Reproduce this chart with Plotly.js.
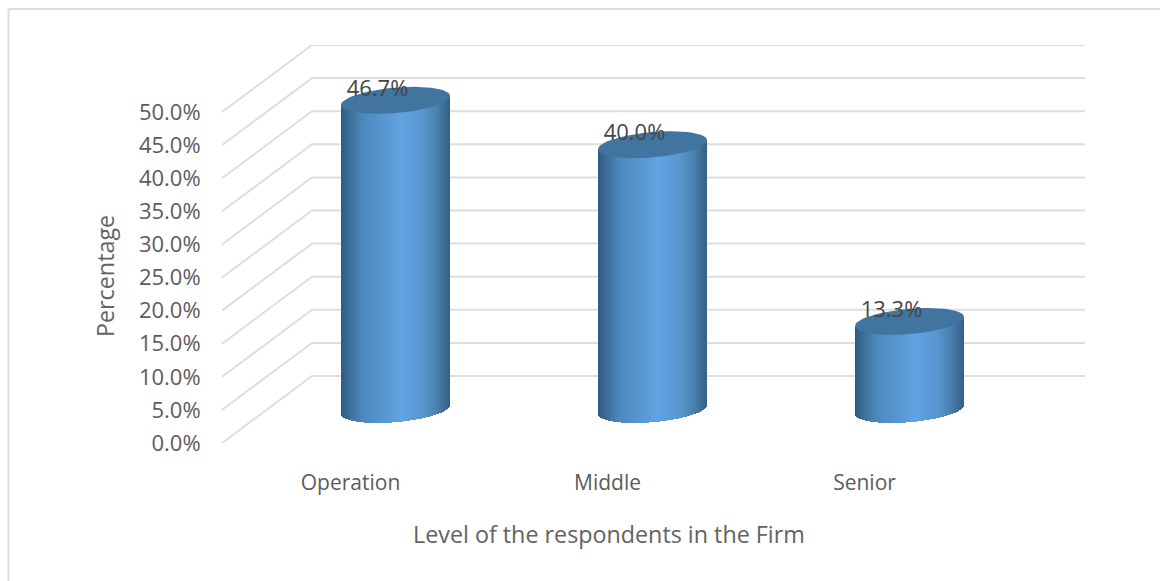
<!DOCTYPE html>
<html>
<head>
<meta charset="utf-8">
<script src="https://cdn.plot.ly/plotly-3.0.1.min.js"></script>
<style>html,body{margin:0;padding:0;background:#fff}#chart{width:1160px;height:581px}</style>
</head>
<body>
<div id="chart"></div>
<script>
// Respondent level in the firm, percentage of respondents
const categories = ['Operation', 'Middle', 'Senior'];
const percentages = [46.7, 40.0, 13.3];
const valueTicks = [0, 5, 10, 15, 20, 25, 30, 35, 40, 45, 50];
const xAxisTitle = 'Level of the respondents in the Firm';
const yAxisTitle = 'Percentage';

// Plot frame in pixels: the x/y axes describe the front plane of the 3-D box
const W = 1160, H = 581;
const plotL = 222, plotR = 1085, plotB = 443, plotT = 45;
const pxPerCat = 257, pxPerVal = 6.62;
const xMin = -0.5, xMax = xMin + (plotR - plotL) / pxPerCat;
const yMax = (plotB - plotT) / pxPerVal;

// Oblique projection: how far the walls and the cylinder plane sit behind the front plane
const wallDx = 90 / pxPerCat, wallDy = 67 / pxPerVal;
const cylDx = 45 / pxPerCat, cylDy = 33.5 / pxPerVal;
const halfW = 54.5 / pxPerCat;        // cylinder radius on screen
const tilt = 4.5 / pxPerVal;          // ellipse shear, rising to the right
const minor = 12.7 / pxPerVal;        // ellipse half height

const stops = [
  [0, [48, 90, 128]], [0.08, [60, 110, 154]], [0.2, [78, 137, 188]], [0.35, [84, 148, 204]],
  [0.55, [96, 163, 226]], [0.75, [88, 151, 208]], [0.88, [74, 128, 174]], [1, [52, 94, 132]]
];
function shade(t) {
  let i = 0;
  while (i < stops.length - 2 && t > stops[i + 1][0]) i++;
  const [a, ca] = stops[i], [b, cb] = stops[i + 1];
  const f = (t - a) / (b - a);
  return 'rgb(' + ca.map((c, k) => Math.round(c + (cb[k] - c) * f)).join(',') + ')';
}

// The cylinder bodies are one bar trace of 1px-wide slices, shaded across the width
const sliceX = [], sliceBase = [], sliceLen = [], sliceColor = [];
const sliceW = 1 / pxPerCat, nSlices = 109;
categories.forEach((c, i) => {
  for (let s = 0; s < nSlices; s++) {
    const u = (s + 0.5) / nSlices * 2 - 1;
    const low = cylDy + tilt * u - minor * Math.sqrt(1 - u * u);
    sliceX.push(i + cylDx + u * halfW);
    sliceBase.push(low);
    sliceLen.push(percentages[i] + tilt * u - low + cylDy);
    sliceColor.push(shade((u + 1) / 2));
  }
});

const traces = [{
  type: 'bar', x: sliceX, y: sliceLen, base: sliceBase, width: sliceW * 1.05,
  marker: {color: sliceColor, line: {width: 0}}, hoverinfo: 'skip', showlegend: false
}];

// Cylinder caps
percentages.forEach((v, i) => {
  const xs = [], ys = [];
  for (let a = 0; a <= 72; a++) {
    const th = a / 72 * 2 * Math.PI, u = Math.cos(th);
    xs.push(i + cylDx + u * halfW);
    ys.push(v + cylDy + tilt * u + minor * Math.sin(th));
  }
  traces.push({
    type: 'scatter', mode: 'lines', x: xs, y: ys, fill: 'toself', fillcolor: '#41749f',
    line: {width: 0, color: '#41749f'}, hoverinfo: 'skip', showlegend: false
  });
});

// Value labels
traces.push({
  type: 'scatter', mode: 'text',
  x: categories.map((c, i) => i + 27 / pxPerCat),
  y: percentages.map(v => v + 43.5 / pxPerVal),
  text: percentages.map(v => v.toFixed(1) + '%'),
  textposition: 'middle center',
  textfont: {family: 'Open Sans', size: 22, color: '#454545'},
  hoverinfo: 'skip', showlegend: false, cliponaxis: false
});

// Gridlines run from the front edge up the side wall and along the back wall
const gridShapes = valueTicks.map(v => ({
  type: 'path', xref: 'x', yref: 'y', layer: 'below',
  path: `M ${xMin},${v} L ${xMin + wallDx},${v + wallDy} L ${xMax},${v + wallDy}`,
  line: {color: '#dedede', width: 2}
}));

// Outer frame of the chart area
const paperX = px => (px - plotL) / (plotR - plotL);
const paperY = px => (plotB - px) / (plotB - plotT);
const frameShapes = [
  {type: 'line', xref: 'paper', yref: 'paper', x0: paperX(8.5), x1: paperX(8.5),
   y0: paperY(9), y1: paperY(H), line: {color: '#dddddd', width: 2}},
  {type: 'line', xref: 'paper', yref: 'paper', x0: paperX(8.5), x1: paperX(W),
   y0: paperY(9), y1: paperY(9), line: {color: '#dddddd', width: 2}}
];

// Axis titles are centred on the chart body, which is offset from the plot domain
const titleFont = {family: 'Open Sans', size: 23.3, color: '#636363'};
const titleNotes = [
  {text: xAxisTitle, xref: 'paper', yref: 'paper', x: paperX(609), y: paperY(534),
   showarrow: false, xanchor: 'center', yanchor: 'middle', font: titleFont},
  {text: yAxisTitle, xref: 'paper', yref: 'paper', x: paperX(105), y: paperY(276),
   showarrow: false, xanchor: 'center', yanchor: 'middle', textangle: -90, font: titleFont}
];

const layout = {
  width: W, height: H, paper_bgcolor: '#fff', plot_bgcolor: 'rgba(0,0,0,0)',
  margin: {l: plotL, r: W - plotR, t: plotT, b: H - plotB, pad: 0},
  barmode: 'overlay', bargap: 0, showlegend: false,
  xaxis: {
    range: [xMin, xMax], tickmode: 'array', tickvals: categories.map((c, i) => i), ticktext: categories,
    showgrid: false, zeroline: false, showline: false, ticks: 'outside', ticklen: 21,
    tickcolor: 'rgba(0,0,0,0)', tickfont: {family: 'Open Sans', size: 21, color: '#5c5c5c'}, fixedrange: true
  },
  yaxis: {
    range: [0, yMax], tickmode: 'array', tickvals: valueTicks, ticktext: valueTicks.map(v => v.toFixed(1) + '%'),
    showgrid: false, zeroline: false, showline: false, ticks: 'outside', ticklen: 16,
    tickcolor: 'rgba(0,0,0,0)', tickfont: {family: 'Open Sans', size: 22, color: '#5c5c5c'}, fixedrange: true
  },
  shapes: gridShapes.concat(frameShapes),
  annotations: titleNotes
};

Plotly.newPlot('chart', traces, layout, {displayModeBar: false, staticPlot: true});
</script>
</body>
</html>
